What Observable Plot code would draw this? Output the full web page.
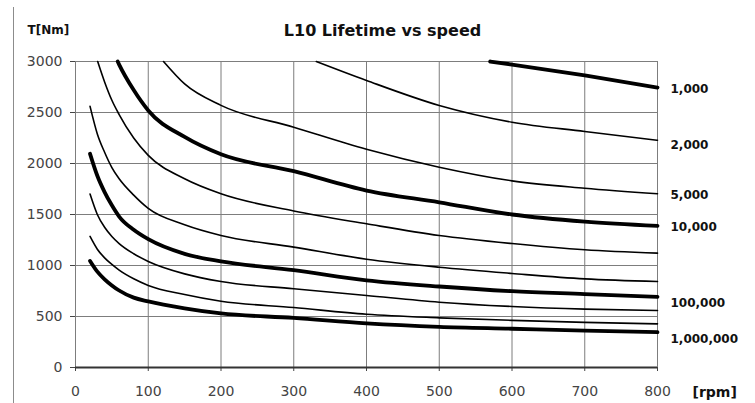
<!DOCTYPE html>
<html><head><meta charset="utf-8">
<script src="https://cdn.jsdelivr.net/npm/d3@7"></script>
<script src="https://cdn.jsdelivr.net/npm/@observablehq/plot@0.6"></script>
<style>
html,body{margin:0;padding:0;background:#fff;}
#wrap{position:relative;width:755px;height:403px;overflow:hidden;}
#edge{position:absolute;left:13px;top:7px;width:0;height:400px;border-left:1.5px solid #8c8c8c;}
#wrap svg{position:absolute;left:0;top:0;}
</style></head><body><div id="wrap"><div id="edge"></div></div>
<script>
// L10 lifetime (hours) of each curve
const lifeHours = [1000, 2000, 5000, 10000, 20000, 50000, 100000, 200000, 500000, 1000000];
const lifeLabels = ["1,000", "2,000", "5,000", "10,000", "20,000", "50,000", "100,000", "200,000", "500,000", "1,000,000"];
const labelledLives = [1000, 2000, 5000, 10000, 100000, 1000000];
const thickLives = [1000, 10000, 100000, 1000000];
// speed points [rpm]
const rpm = [20, 30, 40, 50, 60, 80, 100, 150, 200, 300, 400, 500, 600, 700, 800];
// speed where a curve leaves the top of the chart (T = 3000)
const topEntryRpm = [570, 331, 121, 58, 30.5, null, null, null, null, null];
// torque T [Nm] for each curve (null = above the chart)
const t1k   = [null, null, null, null, null, null, null, null, null, null, null, null, 2970, 2863, 2745];
const t2k   = [null, null, null, null, null, null, null, null, null, null, 2814, 2569, 2405, 2314, 2228];
const t5k   = [null, null, null, null, null, null, null, 2780, 2570, 2356, 2140, 1964, 1830, 1758, 1704];
const t10k  = [null, null, null, null, 2970, 2720, 2520, 2260, 2090, 1925, 1735, 1620, 1500, 1430, 1388];
const t20k  = [null, null, 2800, 2620, 2480, 2250, 2080, 1850, 1703, 1535, 1409, 1294, 1215, 1154, 1121];
const t50k  = [2560, 2290, 2110, 1960, 1850, 1690, 1560, 1400, 1295, 1180, 1062, 983, 922, 869, 843];
const t100k = [2095, 1880, 1720, 1590, 1480, 1350, 1258, 1114, 1040, 955, 855, 794, 748, 720, 692];
const t200k = [1700, 1500, 1375, 1285, 1215, 1115, 1040, 918, 843, 772, 706, 640, 598, 572, 559];
const t500k = [1285, 1160, 1075, 1010, 955, 870, 805, 716, 650, 588, 522, 487, 462, 442, 428];
const t1m   = [1045, 940, 865, 805, 755, 685, 648, 580, 530, 486, 432, 398, 380, 362, 346];
// axis ticks
const xTicks = [0, 100, 200, 300, 400, 500, 600, 700, 800];
const yTicks = [0, 500, 1000, 1500, 2000, 2500, 3000];

const torqueSeries = [t1k, t2k, t5k, t10k, t20k, t50k, t100k, t200k, t500k, t1m];
const rows = [];
lifeHours.forEach((L, k) => {
  const vals = torqueSeries[k];
  if (topEntryRpm[k] != null) rows.push({rpm: topEntryRpm[k], T: 3000, life: L});
  rpm.forEach((n, i) => { if (vals[i] != null) rows.push({rpm: n, T: vals[i], life: L}); });
});
const thickRows = rows.filter(d => thickLives.includes(d.life));
const thinRows = rows.filter(d => !thickLives.includes(d.life));

// per-label vertical nudges (px) to mimic the reference placement
const labelDy = {1000: 2, 2000: 5, 5000: 1, 10000: 1, 100000: 6, 1000000: 7};
const labelMarks = labelledLives.map(L => {
  const k = lifeHours.indexOf(L);
  const vals = torqueSeries[k];
  return Plot.text([{rpm: rpm[rpm.length - 1], T: vals[vals.length - 1], label: lifeLabels[k]}], {
    x: "rpm", y: "T", text: "label", textAnchor: "start", dx: 13, dy: labelDy[L],
    fontSize: 12, fontWeight: "bold", fill: "#111"
  });
});

const chart = Plot.plot({
  width: 755,
  height: 403,
  marginLeft: 75,
  marginRight: 98,
  marginTop: 61,
  marginBottom: 36,
  style: {fontFamily: "DejaVu Sans", background: "transparent", color: "#333"},
  x: {domain: [0, 800], ticks: xTicks},
  y: {domain: [0, 3000], ticks: yTicks},
  marks: [
    Plot.gridX(xTicks, {stroke: "#7d7d7d", strokeOpacity: 1, strokeWidth: 1}),
    Plot.gridY(yTicks, {stroke: "#7d7d7d", strokeOpacity: 1, strokeWidth: 1}),
    Plot.axisY(yTicks, {tickSize: 5, tickPadding: 8, fontSize: 14, color: "#444", label: null, tickFormat: d => String(d)}),
    Plot.axisX(xTicks, {tickSize: 4, tickPadding: 15, fontSize: 14, color: "#444", label: null, tickFormat: d => String(d)}),
    Plot.ruleY([0], {stroke: "#333", strokeWidth: 2}),
    Plot.line(thinRows, {x: "rpm", y: "T", z: "life", stroke: "#000", strokeWidth: 1.6, curve: "monotone-x"}),
    Plot.line(thickRows, {x: "rpm", y: "T", z: "life", stroke: "#000", strokeWidth: 3.8, curve: "monotone-x"}),
    ...labelMarks,
    Plot.text(["L10 Lifetime vs speed"], {frameAnchor: "top", lineAnchor: "middle", dx: 16, dy: -31, fontSize: 16, fontWeight: "bold", fill: "#111"}),
    Plot.text(["T[Nm]"], {frameAnchor: "top-left", lineAnchor: "middle", dx: -48, dy: -31, textAnchor: "start", fontSize: 12, fontWeight: "bold", fill: "#111"}),
    Plot.text(["[rpm]"], {frameAnchor: "bottom-right", lineAnchor: "middle", dx: 35, dy: 25, textAnchor: "start", fontSize: 14, fontWeight: "bold", fill: "#111"})
  ]
});
document.getElementById("wrap").appendChild(chart);
</script>
</body></html>
